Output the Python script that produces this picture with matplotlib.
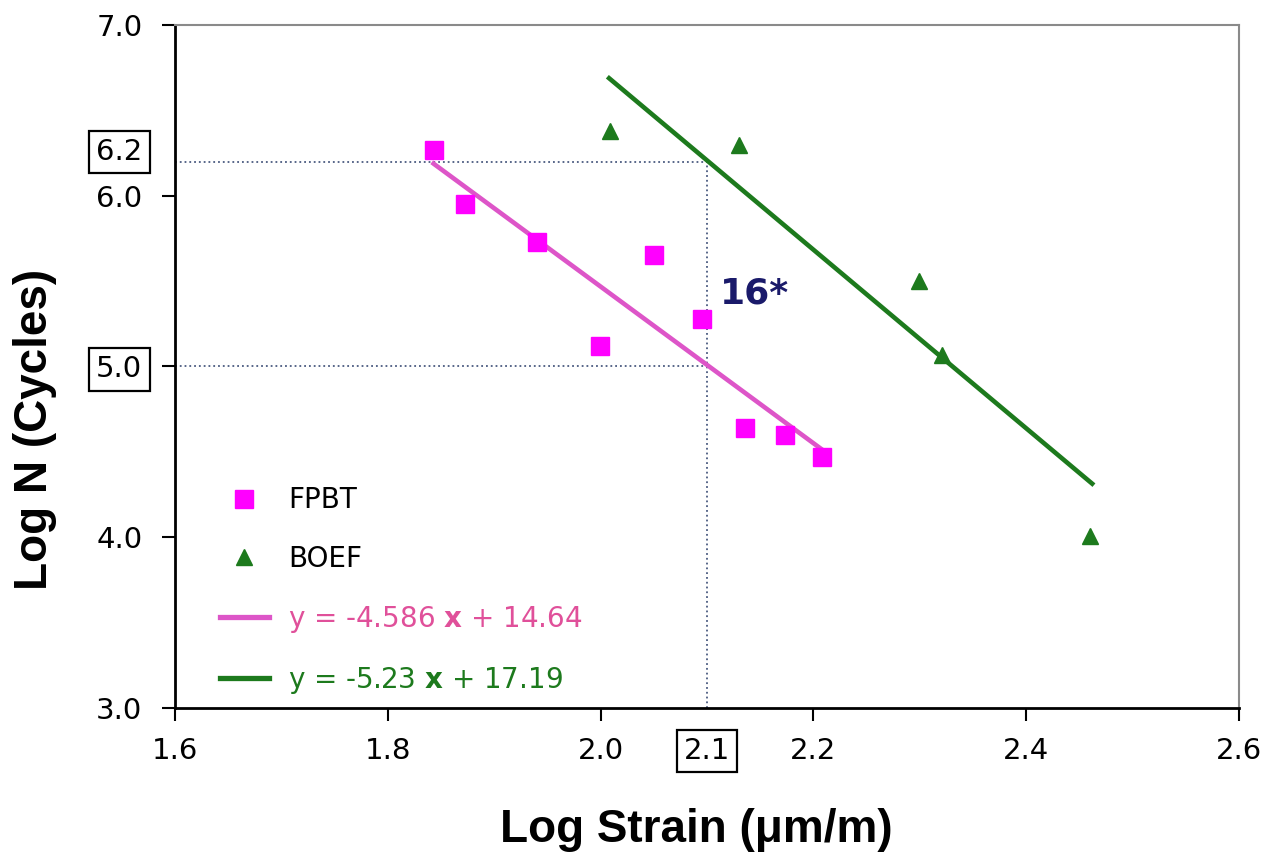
import matplotlib
matplotlib.use('Agg')
import matplotlib.pyplot as plt
from matplotlib.lines import Line2D
from matplotlib.transforms import blended_transform_factory, ScaledTranslation
import numpy as np

# ---- data ----
fpbt_x = [1.843, 1.873, 1.940, 1.999, 2.050, 2.095, 2.136, 2.173, 2.208]
fpbt_y = [6.27, 5.95, 5.73, 5.12, 5.65, 5.28, 4.64, 4.60, 4.47]
boef_x = [2.009, 2.130, 2.299, 2.321, 2.460]
boef_y = [6.38, 6.30, 5.50, 5.07, 4.01]
fpbt_slope, fpbt_int = -4.586, 14.64
boef_slope, boef_int = -5.23, 17.19
fpbt_fit_range = [1.843, 2.21]
boef_fit_range = [2.008, 2.462]
ref_strain = 2.1
ref_n_high = 6.2
ref_n_low = 5.0
xticks = [1.6, 1.8, 2.0, 2.1, 2.2, 2.4, 2.6]
yticks = [3.0, 4.0, 5.0, 6.0, 7.0]
annotation = "16*"

PINK_MK = '#ff00ff'
PINK_LN = '#dd55c8'
PINK_TX = '#e0509a'
GREEN = '#1d7a1d'
DOT = '#4a5a80'
TICKFS = 21
BOX = dict(boxstyle='square,pad=0.25', facecolor='white', edgecolor='black', lw=1.6)

fig = plt.figure(figsize=(12.66, 8.55), dpi=100)
ax = fig.add_axes([0.1382, 0.1719, 0.8405, 0.7989])

ax.set_xlim(1.6, 2.6)
ax.set_ylim(3.0, 7.0)

# reference dotted lines
ax.plot([1.6, ref_strain], [ref_n_high, ref_n_high], ls=':', color=DOT, lw=1.3, zorder=1)
ax.plot([1.6, ref_strain], [ref_n_low, ref_n_low], ls=':', color=DOT, lw=1.3, zorder=1)
ax.plot([ref_strain, ref_strain], [3.0, ref_n_high], ls=':', color=DOT, lw=1.3, zorder=1)

# fit lines
fx1 = np.array(fpbt_fit_range)
fx2 = np.array(boef_fit_range)
ax.plot(fx1, fpbt_slope * fx1 + fpbt_int, color=PINK_LN, lw=3.3, zorder=2)
ax.plot(fx2, boef_slope * fx2 + boef_int, color=GREEN, lw=3.3, zorder=2)

# points
ax.plot(fpbt_x, fpbt_y, ls='none', marker='s', ms=13, color=PINK_MK, zorder=3)
ax.plot(boef_x, boef_y, ls='none', marker='^', ms=12, color=GREEN, zorder=3)

# annotation
ax.text(2.112, 5.37, annotation, fontsize=26, fontweight='bold', color='#1a1a6a',
        family='DejaVu Sans', ha='left', va='baseline')

# spines
for s in ['left', 'bottom']:
    ax.spines[s].set_linewidth(2.0)
    ax.spines[s].set_color('black')
for s in ['top', 'right']:
    ax.spines[s].set_linewidth(1.5)
    ax.spines[s].set_color('#8a8a8a')

ax.set_xticks(xticks)
ax.set_xticklabels([f"{v:.1f}" for v in xticks])
ax.set_yticks(yticks)
ax.set_yticklabels([f"{v:.1f}" for v in yticks])
ax.tick_params(axis='y', direction='out', length=9.5, width=1.5, labelsize=TICKFS, pad=14)
ax.tick_params(axis='x', direction='out', length=9.5, width=1.5, labelsize=TICKFS, pad=11.5)
for lab in ax.get_yticklabels():
    lab.set_family('DejaVu Sans')
    if lab.get_text() == f"{ref_n_low:.1f}":
        lab.set_bbox(BOX)
for lab in ax.get_xticklabels():
    lab.set_family('DejaVu Sans')
for tk, v in zip(ax.xaxis.get_major_ticks(), xticks):
    if abs(v - ref_strain) < 1e-9:
        tk.tick1line.set_visible(False)
        tk.label1.set_bbox(BOX)

# boxed 6.2 label, placed like the y tick labels but a bit above the line
ytrans = blended_transform_factory(ax.transAxes, ax.transData) + \
    ScaledTranslation(-(9.5 + 14) / 72, 7 / 72, fig.dpi_scale_trans)
ax.text(0, ref_n_high, f"{ref_n_high:.1f}", transform=ytrans, ha='right', va='center',
        fontsize=TICKFS, family='DejaVu Sans', bbox=BOX)

ax.set_xlabel('Log Strain (\u03bcm/m)', fontsize=33, fontweight='bold',
              family='Liberation Sans')
ax.set_ylabel('Log N (Cycles)', fontsize=33, fontweight='bold',
              family='Liberation Sans')
ax.xaxis.set_label_coords(0.49, -0.147)
ax.yaxis.set_label_coords(-0.111, 0.408)

# legend
handles = [
    Line2D([], [], ls='none', marker='s', ms=13, color=PINK_MK),
    Line2D([], [], ls='none', marker='^', ms=12, color=GREEN),
    Line2D([], [], color=PINK_LN, lw=3.8),
    Line2D([], [], color=GREEN, lw=3.8),
]
labels = ['FPBT', 'BOEF',
          r'y = -4.586 $\mathbf{x}$ + 14.64',
          r'y = -5.23 $\mathbf{x}$ + 17.19']
leg = ax.legend(handles, labels, loc='lower left', bbox_to_anchor=(0.024, -0.011),
                frameon=False, fontsize=20, handlelength=1.75, handletextpad=0.7,
                labelspacing=1.1, borderpad=0.2)
txts = leg.get_texts()
txts[2].set_color(PINK_TX)
txts[3].set_color(GREEN)

fig.savefig('out.png', dpi=100, facecolor='white')
